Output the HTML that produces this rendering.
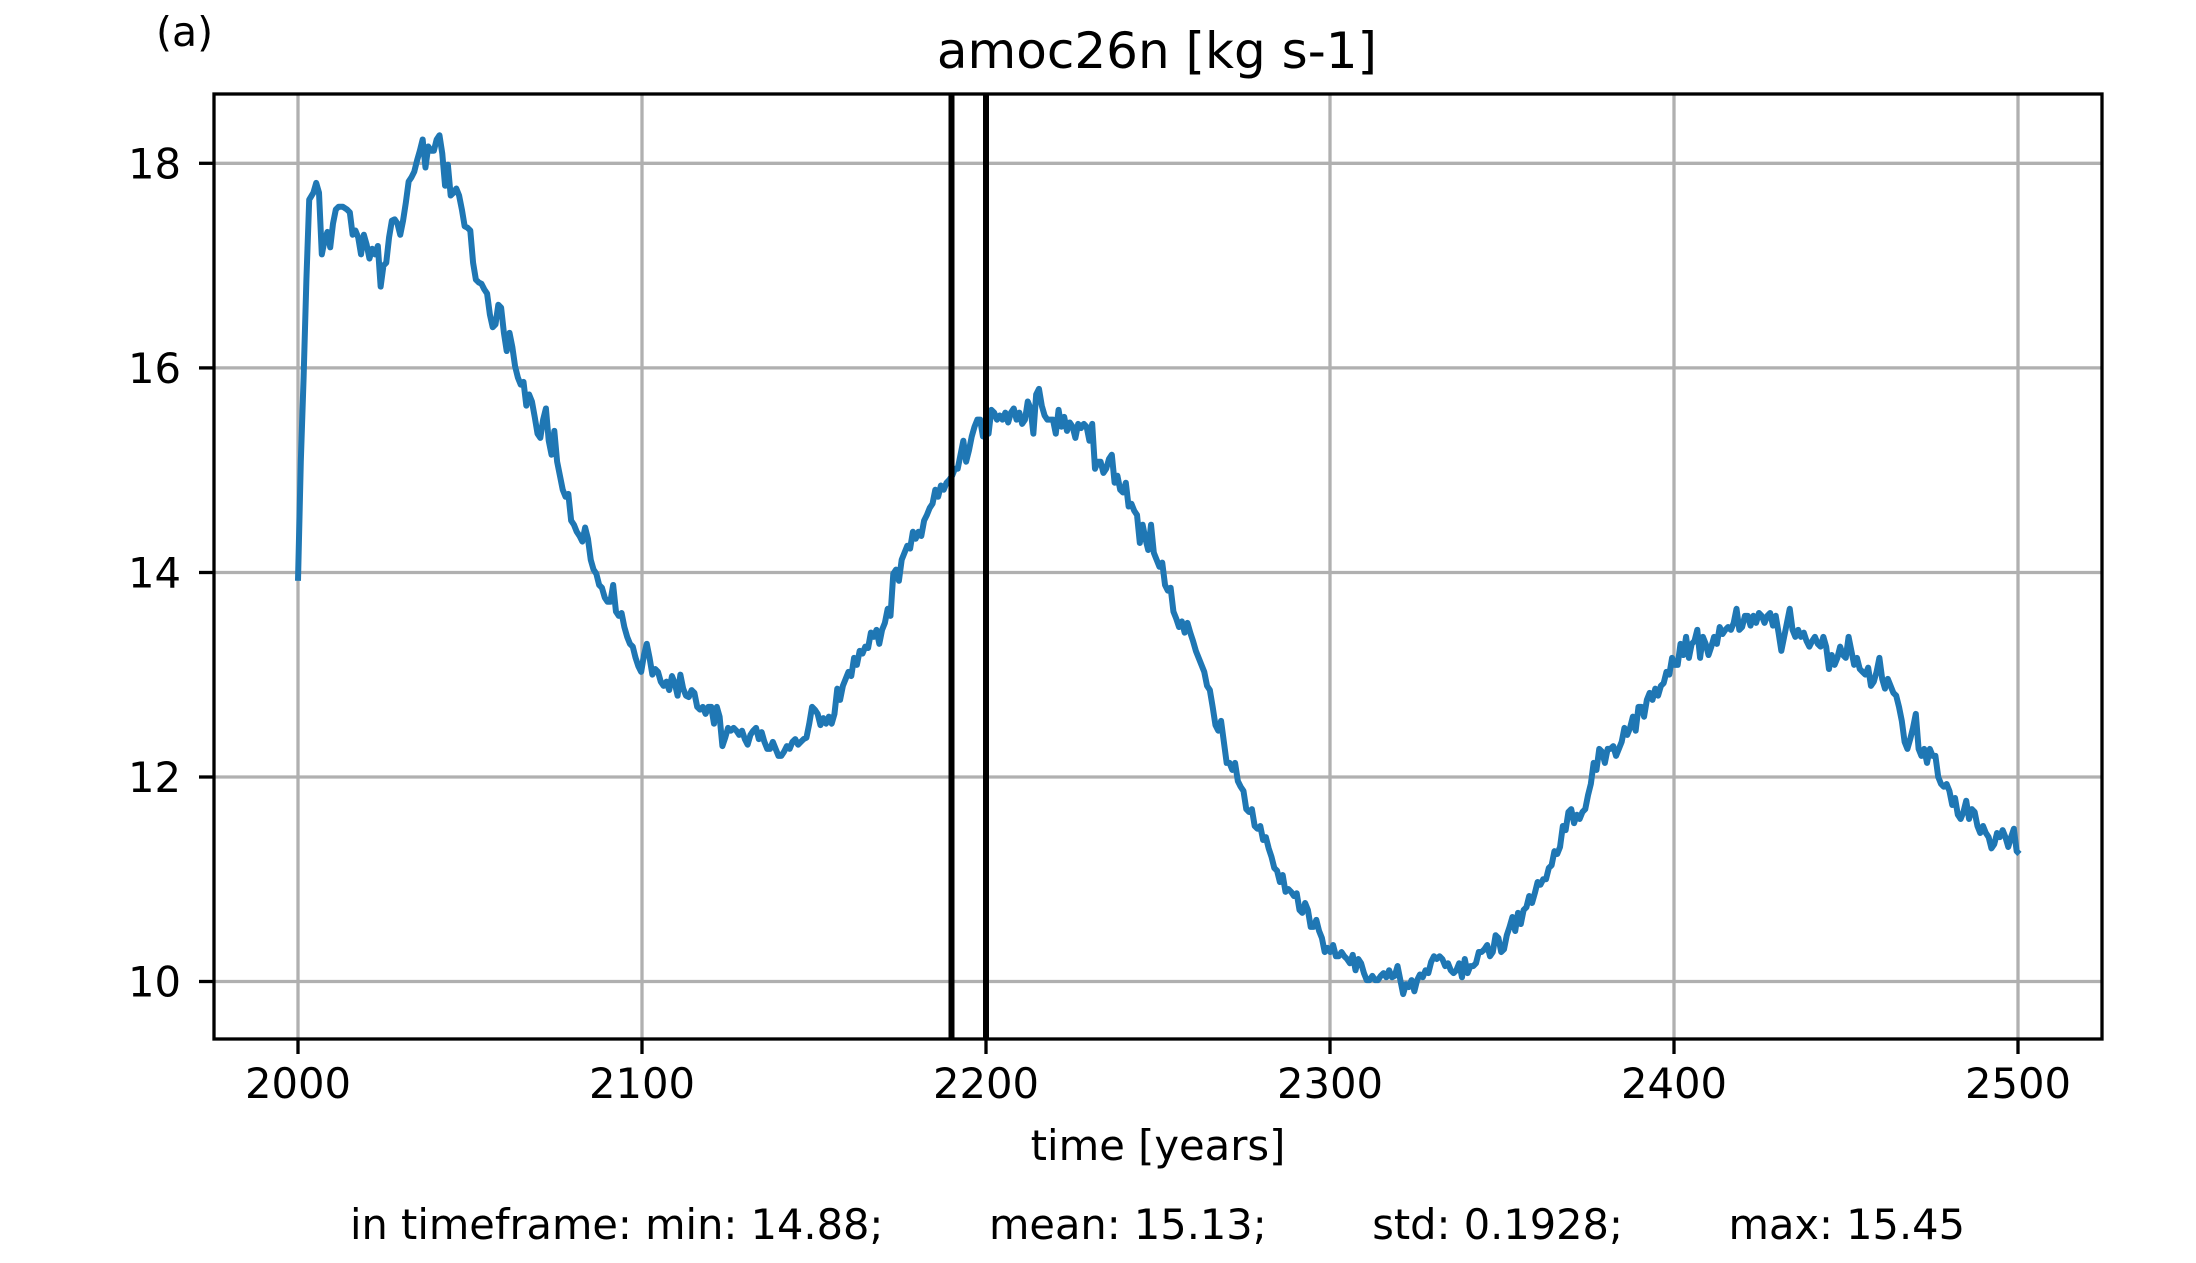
<!DOCTYPE html>
<html><head><meta charset="utf-8"><style>html,body{margin:0;padding:0;background:#fff}svg{display:block}</style></head>
<body>
<svg width="2196" height="1263" viewBox="0 0 2196 1263" xmlns="http://www.w3.org/2000/svg" font-family="'DejaVu Sans','Liberation Sans',sans-serif">
<rect width="2196" height="1263" fill="#fff"/>
<defs><clipPath id="ax"><rect x="214" y="94" width="1888" height="945"/></clipPath></defs>
<g stroke="#b0b0b0" stroke-width="3.3">
<line x1="298" y1="94" x2="298" y2="1039"/><line x1="642" y1="94" x2="642" y2="1039"/><line x1="986" y1="94" x2="986" y2="1039"/><line x1="1330" y1="94" x2="1330" y2="1039"/><line x1="1674" y1="94" x2="1674" y2="1039"/><line x1="2018" y1="94" x2="2018" y2="1039"/>
<line x1="214" y1="163.3" x2="2102" y2="163.3"/><line x1="214" y1="367.9" x2="2102" y2="367.9"/><line x1="214" y1="572.5" x2="2102" y2="572.5"/><line x1="214" y1="777" x2="2102" y2="777"/><line x1="214" y1="981.5" x2="2102" y2="981.5"/>
</g>
<g clip-path="url(#ax)">
<polyline fill="none" stroke="#1f77b4" stroke-width="6" stroke-linejoin="round" vector-effect="non-scaling-stroke" transform="matrix(1.4007 0 0 1.401 1.05 -0.62)" points="212,415 214,330 216,270 218,200 220,143 223,138 225,131 227,138 229,182 231,172 233,166 235,177 237,160 239,150 241,148 244,148 247,150 249,152 251,168 253,165 255,170 257,182 259,168 261,175 263,185 265,178 267,182 269,176 271,205 273,190 275,188 277,170 279,158 281,157 283,160 285,168 287,158 289,145 291,130 293,127 295,123 297,115 299,108 301,100 302,110 303,120 305,105 307,108 309,108 311,100 313,97 315,110 317,133 319,118 321,140 323,138 325,135 327,140 329,150 331,162 333,163 335,165 337,188 339,200 341,202 343,203 345,207 347,210 349,225 351,234 353,232 355,218 357,220 359,238 361,251 363,238 365,248 367,262 369,270 371,275 373,273 375,290 377,282 379,287 381,298 383,310 385,313 387,300 389,292 391,315 393,325 395,308 397,330 399,340 401,350 403,355 405,353 407,372 409,375 411,380 413,383 415,387 417,377 419,385 421,400 423,407 425,410 427,418 429,420 431,427 433,430 435,430 437,418 439,437 441,440 443,438 445,448 447,455 449,460 451,462 453,470 455,476 457,480 459,468 461,460 463,470 465,482 467,478 469,480 471,487 473,490 475,487 477,493 479,483 481,488 483,497 485,482 487,492 489,497 491,498 493,493 495,495 497,505 499,507 501,505 503,510 505,505 507,505 509,517 511,505 513,512 515,533 517,527 519,520 521,522 523,520 525,522 527,525 529,522 531,528 533,532 535,525 537,522 539,520 541,528 543,523 545,530 547,535 549,535 551,530 553,535 555,540 557,540 559,537 561,533 563,535 565,530 567,528 569,532 571,530 573,528 575,527 577,517 579,505 581,507 583,510 585,518 587,513 589,517 591,512 593,517 595,510 597,492 599,500 601,490 603,485 605,480 607,483 609,470 611,475 613,465 615,467 617,462 619,463 621,452 623,455 625,450 627,460 629,450 631,445 633,435 635,440 637,410 639,407 641,415 643,400 645,395 647,390 649,392 651,380 653,385 655,380 657,383 659,372 661,368 663,363 665,360 667,350 669,355 671,347 673,350 675,345 677,343 679,340 681,335 683,335 685,325 687,315 689,330 691,322 693,312 695,305 697,300 699,300 701,312 703,305 705,310 707,293 709,295 711,300 713,297 715,300 717,295 719,302 721,295 723,292 725,300 727,295 729,303 731,300 733,287 735,292 737,310 739,282 741,278 743,290 745,297 747,300 749,300 751,300 753,310 755,293 757,305 759,298 761,308 763,302 765,305 767,313 769,303 771,306 773,303 775,305 777,315 779,303 781,335 783,330 785,330 787,338 789,335 791,328 793,325 795,345 797,340 799,350 801,352 803,345 805,362 807,360 809,365 811,368 813,388 815,375 817,385 819,393 821,375 823,395 825,400 827,405 829,402 831,418 833,422 835,420 837,437 839,442 841,448 843,444 845,452 847,445 849,452 851,458 853,465 855,470 857,475 859,480 861,490 863,493 865,505 867,518 869,522 871,515 873,530 875,545 877,545 879,550 881,545 883,558 885,562 887,565 889,578 891,580 893,578 895,590 897,592 899,590 901,600 903,598 905,606 907,612 909,620 911,622 913,630 915,625 917,637 919,635 921,637 923,640 925,638 927,650 929,652 931,645 933,650 935,662 937,662 939,657 941,665 943,670 945,680 947,677 949,680 951,675 953,683 955,683 957,680 959,683 961,685 963,688 965,682 967,693 969,685 971,688 973,695 975,700 977,700 979,697 981,700 983,700 985,697 987,695 989,698 991,693 993,698 995,697 997,690 999,700 1001,710 1003,703 1005,705 1007,700 1009,708 1011,700 1013,696 1015,698 1017,693 1019,695 1021,687 1023,683 1025,685 1027,683 1029,685 1031,690 1033,688 1035,693 1037,695 1039,693 1041,688 1043,698 1045,685 1047,695 1049,690 1051,690 1053,688 1055,680 1057,680 1059,678 1061,675 1063,683 1065,680 1067,668 1069,670 1071,680 1073,678 1075,668 1077,662 1079,655 1081,665 1083,652 1085,660 1087,650 1089,648 1091,640 1093,645 1095,638 1097,630 1099,632 1101,628 1103,628 1105,620 1107,618 1109,608 1111,610 1113,605 1115,590 1117,593 1119,580 1121,578 1123,588 1125,582 1127,585 1129,580 1131,578 1133,568 1135,560 1137,545 1139,550 1141,535 1143,537 1145,545 1147,535 1149,535 1151,533 1153,540 1155,535 1157,530 1159,520 1161,525 1163,520 1165,512 1167,522 1169,505 1171,505 1173,512 1175,500 1177,495 1179,500 1181,492 1183,497 1185,490 1187,488 1189,480 1191,482 1193,470 1195,475 1197,475 1199,460 1201,468 1203,455 1205,470 1207,460 1209,458 1211,450 1213,470 1215,455 1217,460 1219,468 1221,462 1223,455 1225,460 1227,448 1229,453 1231,450 1233,448 1235,450 1237,445 1239,435 1241,450 1243,448 1245,440 1247,440 1249,447 1251,440 1253,445 1255,438 1257,440 1259,445 1261,440 1263,438 1265,447 1267,440 1269,452 1271,465 1273,455 1275,445 1277,435 1279,450 1281,455 1283,450 1285,455 1287,452 1289,458 1291,462 1293,458 1295,455 1297,460 1299,462 1301,455 1303,462 1305,478 1307,468 1309,475 1311,470 1313,462 1315,468 1317,470 1319,455 1321,465 1323,475 1325,470 1327,478 1329,480 1331,482 1333,477 1335,490 1337,487 1339,480 1341,470 1343,485 1345,492 1347,485 1349,490 1351,495 1353,497 1355,505 1357,515 1359,530 1361,535 1363,528 1365,520 1367,510 1369,535 1371,540 1373,535 1375,545 1377,535 1379,540 1381,540 1383,555 1385,560 1387,562 1389,560 1391,565 1393,575 1395,570 1397,582 1399,585 1401,580 1403,572 1405,585 1407,578 1409,580 1411,590 1413,595 1415,590 1417,595 1419,598 1421,606 1423,603 1425,595 1427,598 1429,593 1431,598 1433,605 1435,598 1437,592 1439,608 1441,610"/>
</g>
<line x1="951.5" y1="94" x2="951.5" y2="1039" stroke="#000" stroke-width="6"/>
<line x1="986" y1="94" x2="986" y2="1039" stroke="#000" stroke-width="6"/>
<rect x="214" y="94" width="1888" height="945" fill="none" stroke="#000" stroke-width="3.3"/>
<g stroke="#000" stroke-width="3.3">
<line x1="298" y1="1039" x2="298" y2="1054"/><line x1="642" y1="1039" x2="642" y2="1054"/><line x1="986" y1="1039" x2="986" y2="1054"/><line x1="1330" y1="1039" x2="1330" y2="1054"/><line x1="1674" y1="1039" x2="1674" y2="1054"/><line x1="2018" y1="1039" x2="2018" y2="1054"/>
<line x1="199" y1="163.3" x2="214" y2="163.3"/><line x1="199" y1="367.9" x2="214" y2="367.9"/><line x1="199" y1="572.5" x2="214" y2="572.5"/><line x1="199" y1="777" x2="214" y2="777"/><line x1="199" y1="981.5" x2="214" y2="981.5"/>
</g>
<g font-size="41.7" fill="#000">
<g text-anchor="middle">
<text x="298" y="1098">2000</text><text x="642" y="1098">2100</text><text x="986" y="1098">2200</text><text x="1330" y="1098">2300</text><text x="1674" y="1098">2400</text><text x="2018" y="1098">2500</text>
<text x="1158" y="1160">time [years]</text>
</g>
<g text-anchor="end">
<text x="181" y="178.5">18</text><text x="181" y="383">16</text><text x="181" y="587.5">14</text><text x="181" y="792">12</text><text x="181" y="996.5">10</text>
</g>
<text x="350" y="1239" textLength="1615" lengthAdjust="spacingAndGlyphs" xml:space="preserve">in timeframe: min: 14.88;        mean: 15.13;        std: 0.1928;        max: 15.45</text>
</g>
<text x="1157" y="68" font-size="50" text-anchor="middle" fill="#000">amoc26n [kg s-1]</text>
<text x="156" y="46" font-size="41" fill="#000">(a)</text>
</svg>
</body></html>
